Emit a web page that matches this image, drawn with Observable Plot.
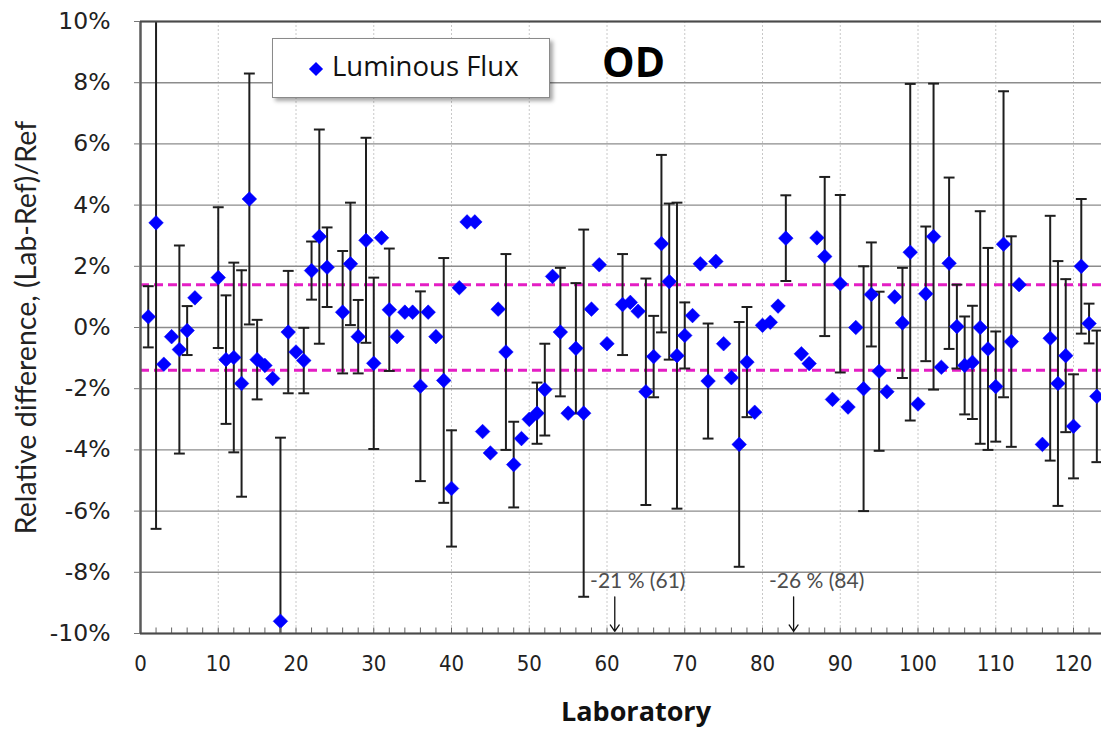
<!DOCTYPE html>
<html>
<head>
<meta charset="utf-8">
<script src="https://cdn.jsdelivr.net/npm/d3@7"></script>
<script src="https://cdn.jsdelivr.net/npm/@observablehq/plot@0.6"></script>
<style>
  html, body { margin: 0; padding: 0; background: #fff; }
  #wrap { position: relative; width: 1101px; height: 729px; overflow: hidden; }
  #legend {
    position: absolute; left: 272px; top: 38px; width: 276px; height: 58px;
    border: 1.5px solid #8a8a8a; background: #fff;
    box-shadow: 3px 3px 4px rgba(0,0,0,0.35);
    font-family: "Open Sans", sans-serif; font-size: 27.5px; color: #111;
  }
  #legend .sw {
    position: absolute; left: 38px; top: 25px; width: 10px; height: 10px;
    background: #0000ff; transform: rotate(45deg);
  }
  #legend .lb { position: absolute; left: 59px; top: 9px; line-height: 36px; }
  #title {
    position: absolute; left: 602px; top: 35px; line-height: 52px;
    font-family: "Open Sans", sans-serif; font-weight: 700; font-size: 41px; color: #000;
  }
</style>
</head>
<body>
<div id="wrap">
  <div id="chart"></div>
  <div id="legend"><div class="sw"></div><div class="lb">Luminous Flux</div></div>
  <div id="title">OD</div>
</div>
<script>
// ---- data ----
const labs = [1,2,3,4,5,6,7,10,11,12,13,14,15,16,17,18,19,20,21,22,23,24,26,27,28,29,30,
  31,32,33,34,35,36,37,38,39,40,41,42,43,44,45,46,47,48,49,50,51,52,53,54,55,56,57,58,59,60,
  61,62,63,64,65,66,67,68,69,70,71,72,73,74,75,76,77,78,79,80,81,82,83,84,85,86,87,88,89,90,
  91,92,93,94,95,96,97,98,99,100,101,102,103,104,105,106,107,108,109,110,111,112,113,
  116,117,118,119,120,121,122,123];
const values = [0.35,3.42,-1.2,-0.3,-0.72,-0.1,0.97,1.63,-1.05,-0.98,-1.83,4.2,-1.05,-1.24,-1.67,-9.6,-0.15,-0.8,-1.08,1.86,2.97,1.97,0.5,2.08,-0.3,2.85,-1.17,
  2.93,0.58,-0.3,0.5,0.5,-1.92,0.5,-0.3,-1.73,-5.26,1.3,3.45,3.45,-3.4,-4.1,0.6,-0.8,-4.48,-3.63,-3.0,-2.8,-2.03,1.67,-0.15,-2.8,-0.68,-2.8,0.6,2.05,-0.53,
  -21,0.75,0.82,0.53,-2.1,-0.95,2.74,1.5,-0.92,-0.26,0.39,2.08,-1.75,2.16,-0.53,-1.64,-3.82,-1.13,-2.77,0.07,0.17,0.7,2.92,-26,-0.86,-1.18,2.93,2.32,-2.35,1.43,
  -2.6,0.0,-2.0,1.08,-1.43,-2.1,1.0,0.15,2.46,-2.5,1.1,2.97,-1.3,2.1,0.03,-1.24,-1.14,0.0,-0.7,-1.93,2.72,-0.46,1.4,
  -3.82,-0.35,-1.83,-0.92,-3.23,2.0,0.13,-2.25];
const uncertainties = [1.0,10.0,null,null,3.4,0.8,null,2.3,2.1,3.1,3.7,4.1,1.3,null,null,6.0,2.0,null,1.07,0.95,3.5,1.3,2.0,2.0,1.2,3.35,2.8,
  null,2.0,null,null,null,3.1,null,null,4.0,1.9,null,null,null,null,null,null,3.2,1.4,null,null,1.0,1.5,null,2.1,null,2.13,6.0,null,null,null,
  null,1.65,null,null,3.7,1.33,2.9,2.55,5.0,1.08,null,null,1.88,null,null,null,4.0,1.8,null,null,null,null,1.4,null,null,null,null,2.6,null,2.9,
  null,null,4.0,1.7,2.6,null,null,1.8,5.5,null,2.2,5.0,null,2.8,1.37,1.6,1.85,3.8,3.3,1.8,5.0,3.44,null,
  null,4.0,4.0,2.5,1.7,2.2,0.65,2.15];
const limitBand = [-1.4, 1.4];
const yTicks = [-10,-8,-6,-4,-2,0,2,4,6,8,10];
const xTicks = [0,10,20,30,40,50,60,70,80,90,100,110,120];
const xMinor = d3.range(0, 124, 2);

// ---- build table ----
const data = labs.map((lab, i) => ({lab, v: values[i], u: uncertainties[i]}));
const withBars = data.filter(d => d.u != null);
const caps = withBars.flatMap(d => [{lab: d.lab, y: d.v - d.u}, {lab: d.lab, y: d.v + d.u}]);
const offChart = data.filter(d => d.v < -10);

const chart = Plot.plot({
  width: 1101, height: 729,
  marginLeft: 140, marginRight: 0, marginTop: 21, marginBottom: 96,
  style: {background: "#fff", overflow: "visible"},
  x: {domain: [0, 123.6]},
  y: {domain: [-10, 10]},
  marks: [
    Plot.ruleX(xTicks.slice(1), {stroke: "#c8c8c8", strokeDasharray: "2,2", strokeWidth: 1}),
    Plot.ruleY(yTicks, {stroke: "#8c8c8c", strokeWidth: 1.4}),
    Plot.ruleY(limitBand, {stroke: "#e41ec4", strokeWidth: 3, strokeDasharray: "9,5"}),
    Plot.ruleX(withBars, {x: "lab", y1: d => d.v - d.u, y2: d => d.v + d.u, stroke: "#1e1e1e", strokeWidth: 2, clip: true}),
    Plot.link(caps, {x1: d => d.lab - 0.7, x2: d => d.lab + 0.7, y1: "y", y2: "y", stroke: "#1e1e1e", strokeWidth: 2, clip: true}),
    Plot.dot(data, {x: "lab", y: "v", symbol: "diamond2", r: 6.6, fill: "#0000ff", stroke: "#0000ff", strokeWidth: 0.5, clip: true}),
    Plot.ruleX(xMinor, {y1: -10, y2: -9.82, stroke: "#666", strokeWidth: 1}),
    Plot.ruleX([0], {stroke: "#5a5a5a", strokeWidth: 2.5}),
    Plot.ruleY([-10, 10], {stroke: "#4a4a4a", strokeWidth: 2}),
    Plot.text(offChart, {x: "lab", y: -8.3, text: d => `${d.v} % (${d.lab})`, dx: 23,
      fontSize: 21, fill: "#4d4d4d", fontFamily: "Lato, sans-serif"}),
    Plot.arrow(offChart, {x: "lab", y1: -8.8, y2: -9.93, stroke: "#111", strokeWidth: 1.3, headLength: 9, headAngle: 70}),
    Plot.axisY({ticks: yTicks, tickFormat: d => d + "%", tickSize: 6, tickPadding: 24, stroke: "#777",
      fontSize: 23.5, label: null, fontFamily: "DejaVu Sans, sans-serif", fill: "#222"}),
    Plot.axisX({ticks: xTicks, tickSize: 0, tickPadding: 22, fontSize: 22, label: null,
      fontFamily: "Liberation Sans Narrow, DejaVu Sans Condensed, sans-serif", fill: "#222"}),
    Plot.text(["Relative difference, (Lab-Ref)/Ref"], {frameAnchor: "left", textAnchor: "middle", dx: -114, rotate: -90,
      fontSize: 28.5, fill: "#222", fontFamily: "Lato, sans-serif"}),
    Plot.text(["Laboratory"], {frameAnchor: "bottom", dx: 15, dy: 87, fontSize: 27, fontWeight: "bold",
      fill: "#111", fontFamily: "Open Sans, sans-serif"})
  ]
});
document.getElementById("chart").appendChild(chart);
</script>
</body>
</html>
